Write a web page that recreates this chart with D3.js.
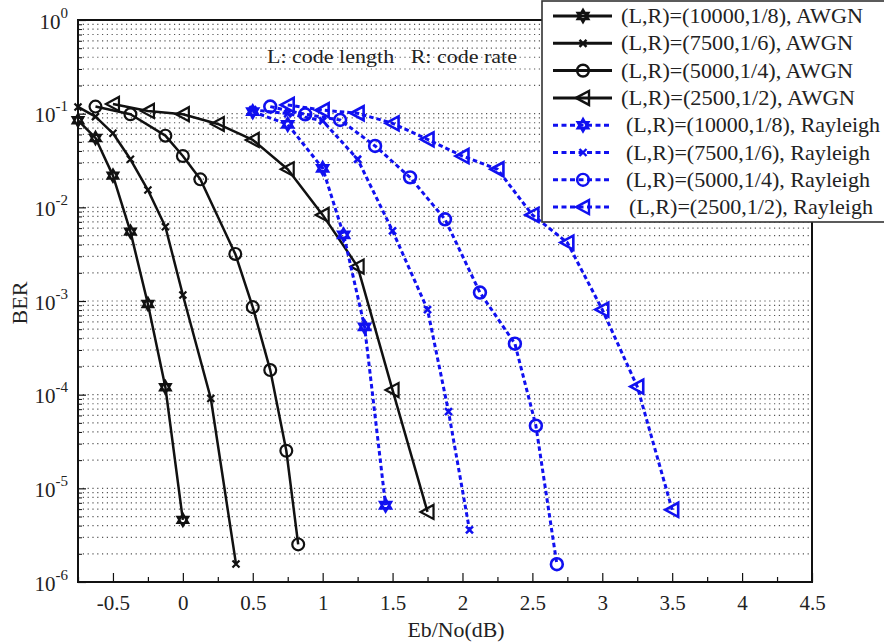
<!DOCTYPE html>
<html><head><meta charset="utf-8">
<script src="https://cdn.jsdelivr.net/npm/d3@7"></script>
<style>
body{margin:0;background:#fff;}
svg{display:block;}
text{font-family:"Liberation Serif","Times New Roman",serif;fill:#222;}
</style></head>
<body>
<svg id="chart" width="884" height="643"></svg>
<script>
// ---------- data ----------
const xTickValues = [-0.5,0,0.5,1,1.5,2,2.5,3,3.5,4,4.5];
const xTickLabels = ["-0.5","0","0.5","1","1.5","2","2.5","3","3.5","4","4.5"];
const yTickExponents = [0,-1,-2,-3,-4,-5,-6];

const awgn10000_x = [-0.75,-0.625,-0.5,-0.375,-0.25,-0.125,0];
const awgn10000_y = [0.085,0.055,0.0218,0.0055,0.00093,1.2e-4,4.6e-6];
const awgn7500_x = [-0.75,-0.625,-0.5,-0.375,-0.25,-0.125,0,0.2,0.38];
const awgn7500_y = [0.118,0.093,0.0617,0.0326,0.0153,0.0062,0.00116,9.1e-5,1.56e-6];
const awgn5000_x = [-0.625,-0.375,-0.125,0,0.125,0.375,0.5,0.625,0.74,0.825];
const awgn5000_y = [0.119,0.0985,0.0582,0.0353,0.0199,0.00318,8.6e-4,1.83e-4,2.52e-5,2.52e-6];
const awgn2500_x = [-0.5,-0.25,0,0.25,0.5,0.75,1.0,1.25,1.5,1.75];
const awgn2500_y = [0.127,0.107,0.0987,0.0776,0.0524,0.0255,0.0083,0.00233,1.12e-4,5.6e-6];

const ray10000_x = [0.5,0.75,1.0,1.15,1.3,1.45];
const ray10000_y = [0.105,0.0769,0.0261,0.00507,5.3e-4,6.6e-6];
const ray7500_x = [0.5,0.75,1.0,1.25,1.5,1.75,1.9,2.05];
const ray7500_y = [0.11,0.1,0.084,0.0326,0.0056,8.1e-4,6.6e-5,3.6e-6];
const ray5000_x = [0.625,0.875,1.125,1.375,1.625,1.875,2.125,2.375,2.525,2.675];
const ray5000_y = [0.119,0.0985,0.0856,0.0452,0.0209,0.00745,0.00123,3.5e-4,4.67e-5,1.55e-6];
const ray2500_x = [0.75,1.0,1.25,1.5,1.75,2.0,2.25,2.5,2.75,3.0,3.25,3.5];
const ray2500_y = [0.124,0.109,0.101,0.0789,0.0532,0.0353,0.0255,0.0083,0.0042,8.1e-4,1.22e-4,5.9e-6];

const seriesNames = [
  "(L,R)=(10000,1/8), AWGN","(L,R)=(7500,1/6), AWGN","(L,R)=(5000,1/4), AWGN","(L,R)=(2500,1/2), AWGN",
  "(L,R)=(10000,1/8), Rayleigh","(L,R)=(7500,1/6), Rayleigh","(L,R)=(5000,1/4), Rayleigh","(L,R)=(2500,1/2), Rayleigh"
];
const seriesMarkers = ["hexagram","x","circle","triangle","hexagram","x","circle","triangle"];
const seriesChannel = ["awgn","awgn","awgn","awgn","ray","ray","ray","ray"];
const seriesX = [awgn10000_x,awgn7500_x,awgn5000_x,awgn2500_x,ray10000_x,ray7500_x,ray5000_x,ray2500_x];
const seriesY = [awgn10000_y,awgn7500_y,awgn5000_y,awgn2500_y,ray10000_y,ray7500_y,ray5000_y,ray2500_y];

// ---------- layout ----------
const svg = d3.select("#chart");
const L = 78, R = 812, T = 20, B = 582;
const x = d3.scaleLinear().domain([-0.75,4.5]).range([L,R]);
const y = d3.scaleLog().domain([1,1e-6]).range([T,B]);
const BLUE = "#1010f0";

// grid (horizontal dotted, every minor decade tick)
const gridVals = [];
for (let e=-6; e<0; e++) for (let m=1; m<10; m++) gridVals.push(m*Math.pow(10,e));
svg.append("g").selectAll("line").data(gridVals).join("line")
  .attr("x1",L).attr("x2",R).attr("y1",d=>y(d)).attr("y2",d=>y(d))
  .attr("stroke","#555").attr("stroke-width",1.2).attr("stroke-dasharray","1.2,3.6");

// axes
const xAxis = d3.axisBottom(x).tickValues(xTickValues).tickFormat((d,i)=>xTickLabels[i]).tickSize(-9).tickPadding(13);
const gx = svg.append("g").attr("transform",`translate(0,${B})`).call(xAxis);
gx.select(".domain").remove();
gx.selectAll("text").attr("font-size",21).attr("font-family","Liberation Serif").attr("fill","#222");
gx.selectAll("line").attr("stroke","#111").attr("stroke-width",1.2);
const xMinor = d3.range(-0.75,4.5,0.25).filter(v=>Math.abs((v*2)-Math.round(v*2))>1e-6);
svg.append("g").attr("transform",`translate(0,${B})`)
  .call(d3.axisBottom(x).tickValues(xMinor).tickSize(-5).tickFormat(""))
  .call(g=>g.select(".domain").remove())
  .selectAll("line").attr("stroke","#111").attr("stroke-width",1.2);

const yMajor = yTickExponents.map(e=>Math.pow(10,e));
const gy = svg.append("g").attr("transform",`translate(${L},0)`)
  .call(d3.axisLeft(y).tickValues(yMajor).tickSize(-8).tickPadding(12).tickFormat(""));
gy.select(".domain").remove();
gy.selectAll("line").attr("stroke","#111").attr("stroke-width",1.2);
gy.selectAll(".tick").each(function(d){
  const e = Math.round(Math.log10(d));
  const t = d3.select(this).select("text").attr("x",-10).attr("dy",null).attr("y",8)
    .attr("text-anchor","end").attr("fill","#222").attr("font-size",21).attr("font-family","Liberation Serif");
  t.append("tspan").text("10");
  t.append("tspan").attr("dy",-11).attr("font-size",15).text(String(e));
});
const yMinor = gridVals.filter(v=>Math.abs(Math.log10(v)-Math.round(Math.log10(v)))>1e-6);
svg.append("g").attr("transform",`translate(${L},0)`)
  .call(d3.axisLeft(y).tickValues(yMinor).tickSize(-4).tickFormat(""))
  .call(g=>g.select(".domain").remove())
  .selectAll("line").attr("stroke","#111").attr("stroke-width",1);

// frame
svg.append("rect").attr("x",L).attr("y",T).attr("width",R-L).attr("height",B-T)
  .attr("fill","none").attr("stroke","#111").attr("stroke-width",2);

// axis labels
svg.append("text").attr("x",456).attr("y",637).attr("text-anchor","middle").attr("font-size",22)
  .attr("textLength",97).attr("lengthAdjust","spacingAndGlyphs").text("Eb/No(dB)");
svg.append("text").attr("transform","translate(27,303) rotate(-90)").attr("text-anchor","middle").attr("font-size",22).text("BER");

// annotation
svg.append("text").attr("x",267).attr("y",63).attr("font-size",19)
  .attr("textLength",250).attr("lengthAdjust","spacingAndGlyphs").text("L: code length\u00a0\u00a0\u00a0R: code rate");

// markers
function markerPath(type){
  if (type==="circle") return d3.symbol(d3.symbolCircle,110)();
  if (type==="x") { const s=3.5; return `M${-s},${-s}L${s},${s}M${-s},${s}L${s},${-s}`; }
  if (type==="triangle") { return "M-7,0L6,-7L6,7Z"; }
  if (type==="hexagram") {
    const r=6.2; let p="";
    [[90,210,330],[30,150,270]].forEach(angs=>{
      p += angs.map((a,i)=>(i?"L":"M")+(r*Math.cos(a*Math.PI/180)).toFixed(2)+","+(-r*Math.sin(a*Math.PI/180)).toFixed(2)).join("")+"Z";
    });
    return p;
  }
}

const line = d3.line().x(d=>x(d[0])).y(d=>y(d[1]));
seriesNames.forEach((name,i)=>{
  const pts = seriesX[i].map((v,j)=>[v,seriesY[i][j]]);
  const blue = seriesChannel[i]==="ray";
  const g = svg.append("g");
  g.append("path").datum(pts).attr("d",line).attr("fill","none")
    .attr("stroke",blue?BLUE:"#111").attr("stroke-width",blue?3:2.5)
    .attr("stroke-dasharray",blue?"4.5,3":null).attr("stroke-linejoin","round");
  g.selectAll("path.m").data(pts).join("path").attr("class","m")
    .attr("transform",d=>`translate(${x(d[0])},${y(d[1])})`)
    .attr("d",markerPath(seriesMarkers[i])).attr("fill","none")
    .attr("stroke",blue?BLUE:"#111").attr("stroke-width",blue?2.6:2.2);
});

// legend
const lg = svg.append("g");
lg.append("rect").attr("x",542).attr("y",1).attr("width",360).attr("height",221)
  .attr("fill","#fff").attr("stroke","#333").attr("stroke-width",1.6);
const legTextX = [621,621,621,621,626,626,626,629];
const legTextW = [242,232,232,234,254,244,244,244];
seriesNames.forEach((name,i)=>{
  const cy = 16 + i*27.3;
  const blue = seriesChannel[i]==="ray";
  lg.append("line").attr("x1",553).attr("x2",612).attr("y1",cy).attr("y2",cy)
    .attr("stroke",blue?BLUE:"#111").attr("stroke-width",3).attr("stroke-dasharray",blue?"5,3.5":null);
  lg.append("path").attr("transform",`translate(583,${cy})`).attr("d",markerPath(seriesMarkers[i]))
    .attr("fill","none").attr("stroke",blue?BLUE:"#111").attr("stroke-width",2.4);
  lg.append("text").attr("x",legTextX[i]).attr("y",cy+7).attr("font-size",22)
    .attr("textLength",legTextW[i]).attr("lengthAdjust","spacingAndGlyphs").text(name);
});
</script>
</body></html>
